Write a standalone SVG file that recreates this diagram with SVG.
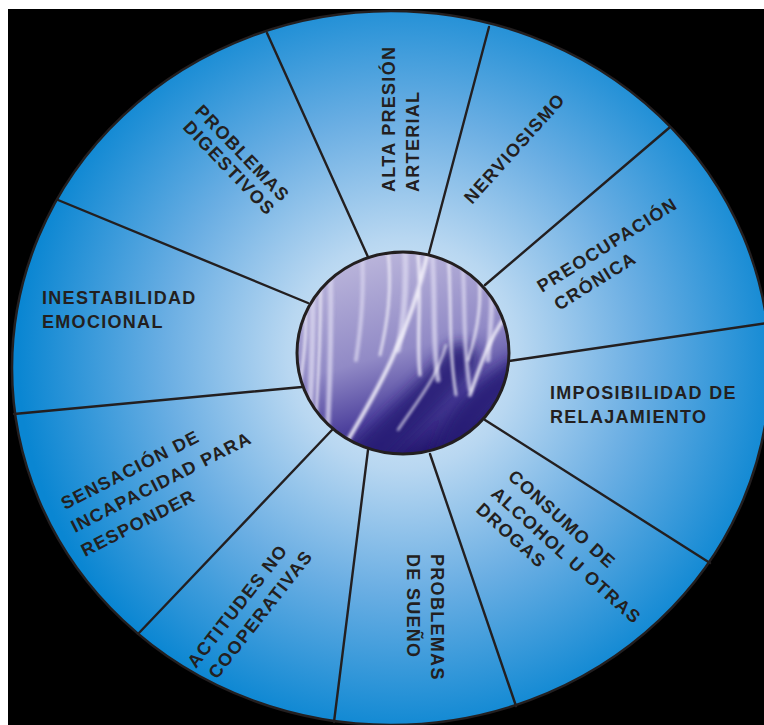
<svg xmlns="http://www.w3.org/2000/svg" width="764" height="725" viewBox="0 0 764 725">
<defs>
<radialGradient id="wheelFill" gradientUnits="userSpaceOnUse" cx="403" cy="354" r="385">
<stop offset="0" stop-color="#eaf4fc"/>
<stop offset="0.3" stop-color="#b8d7f1"/>
<stop offset="0.62" stop-color="#6aaee3"/>
<stop offset="1" stop-color="#0a86d2"/>
</radialGradient>
<linearGradient id="hubFill" x1="0.3" y1="0" x2="0.6" y2="1">
<stop offset="0" stop-color="#bcb7dc"/>
<stop offset="0.5" stop-color="#918ac6"/>
<stop offset="0.78" stop-color="#4f439e"/>
<stop offset="1" stop-color="#22156c"/>
</linearGradient>
<clipPath id="hubClip"><ellipse cx="403" cy="353" rx="106" ry="101"/></clipPath>
<filter id="soft" x="-20%" y="-20%" width="140%" height="140%"><feGaussianBlur stdDeviation="1.8"/></filter>
<filter id="soft2" x="-30%" y="-30%" width="160%" height="160%"><feGaussianBlur stdDeviation="7"/></filter>
</defs>
<style>
.divider{stroke:#231f20;stroke-width:2.4;fill:none;stroke-linecap:round}
.lbl{font-family:"Liberation Sans",Arial,sans-serif;font-size:18px;font-weight:bold;letter-spacing:1.3px;fill:#231f20}
.streak{fill:none;stroke:#f4f2fb;stroke-linecap:round}
.vstreak{fill:none;stroke:#d8d4ee;stroke-linecap:round}
.dstreak{fill:none;stroke:#271a74;stroke-linecap:round}
</style>
<rect x="0" y="0" width="764" height="725" fill="#ffffff"/>
<rect x="8" y="9" width="756" height="716" fill="#000000"/>
<g id="wheel">
<ellipse cx="391" cy="368" rx="379" ry="357" fill="url(#wheelFill)" stroke="#231f20" stroke-width="2.5"/>
</g>
<g id="connectors">
<line class="divider" x1="267" y1="33" x2="368" y2="257"/>
<line class="divider" x1="489" y1="27" x2="429" y2="253"/>
<line class="divider" x1="669" y1="128" x2="485" y2="285"/>
<line class="divider" x1="768" y1="323" x2="509" y2="361"/>
<line class="divider" x1="710" y1="563" x2="485" y2="420"/>
<line class="divider" x1="516" y1="706" x2="430" y2="454"/>
<line class="divider" x1="334" y1="722" x2="368" y2="450"/>
<line class="divider" x1="138" y1="634" x2="332" y2="430"/>
<line class="divider" x1="14" y1="414" x2="302" y2="387"/>
<line class="divider" x1="58" y1="200" x2="308" y2="303"/>
</g>
<g id="hub">
<ellipse cx="403" cy="353" rx="106" ry="101" fill="url(#hubFill)"/>
<g clip-path="url(#hubClip)">
<g filter="url(#soft2)" opacity="0.85">
<path class="dstreak" stroke-width="34" d="M350 480 C 385 430, 420 410, 460 360"/>
<path class="dstreak" stroke-width="30" d="M440 480 C 455 430, 470 400, 525 370"/>
</g>
<g filter="url(#soft)" opacity="0.8">
<path class="vstreak" stroke-width="6" d="M312 260 C 314 320, 312 380, 308 450"/>
<path class="vstreak" stroke-width="5" d="M330 250 C 332 320, 330 390, 326 460"/>
<path class="vstreak" stroke-width="4" d="M362 250 C 364 290, 362 320, 356 360"/>
<path class="vstreak" stroke-width="6" d="M405 250 C 407 290, 404 320, 398 350"/>
<path class="vstreak" stroke-width="5" d="M432 250 C 436 300, 432 340, 438 380"/>
<path class="vstreak" stroke-width="4" d="M462 255 C 466 300, 462 340, 470 390"/>
<path class="vstreak" stroke-width="5" d="M490 270 C 494 300, 490 330, 488 360"/>
</g>
<g filter="url(#soft)" opacity="0.9">
<path class="streak" stroke-width="2.5" d="M320 255 C 322 320, 318 380, 314 455"/>
<path class="streak" stroke-width="4" d="M345 445 C 375 395, 410 335, 428 252"/>
<path class="streak" stroke-width="2.5" d="M388 250 C 392 290, 388 320, 380 355"/>
<path class="streak" stroke-width="3" d="M418 255 C 422 300, 416 340, 420 375"/>
<path class="streak" stroke-width="2.5" d="M448 252 C 452 300, 448 345, 456 395"/>
<path class="streak" stroke-width="3.5" d="M470 395 C 482 360, 492 330, 515 305"/>
<path class="streak" stroke-width="2.5" d="M478 268 C 483 300, 478 330, 468 360"/>
<path class="streak" stroke-width="2.5" d="M300 385 C 305 350, 308 320, 304 290"/>
<path class="streak" stroke-width="2" d="M398 430 C 418 400, 436 380, 446 345"/>
</g>
</g>
<ellipse cx="403" cy="353" rx="106" ry="101" fill="none" stroke="#231f20" stroke-width="3"/>
</g>
<g id="label-problemas-digestivos">
<text class="lbl" transform="translate(194,112) rotate(46)">PROBLEMAS</text>
<text class="lbl" transform="translate(182,128) rotate(46)">DIGESTIVOS</text>
</g>
<g id="label-alta-presion">
<text class="lbl" transform="translate(395,192) rotate(-90)">ALTA PRESIÓN</text>
<text class="lbl" transform="translate(419,192) rotate(-90)">ARTERIAL</text>
</g>
<g id="label-nerviosismo">
<text class="lbl" transform="translate(472,205) rotate(-48)">NERVIOSISMO</text>
</g>
<g id="label-preocupacion">
<text class="lbl" transform="translate(542,293) rotate(-32)">PREOCUPACIÓN</text>
<text class="lbl" transform="translate(559,311) rotate(-32)">CRÓNICA</text>
</g>
<g id="label-imposibilidad">
<text class="lbl" x="550" y="399">IMPOSIBILIDAD DE</text>
<text class="lbl" x="550" y="423">RELAJAMIENTO</text>
</g>
<g id="label-consumo">
<text class="lbl" transform="translate(507,478) rotate(42)">CONSUMO DE</text>
<text class="lbl" transform="translate(490,495) rotate(42)">ALCOHOL U OTRAS</text>
<text class="lbl" transform="translate(475,511) rotate(42)">DROGAS</text>
</g>
<g id="label-problemas-sueno">
<text class="lbl" transform="translate(431,554) rotate(90)">PROBLEMAS</text>
<text class="lbl" transform="translate(407,554) rotate(90)">DE SUEÑO</text>
</g>
<g id="label-actitudes">
<text class="lbl" transform="translate(196,669) rotate(-52)">ACTITUDES NO</text>
<text class="lbl" transform="translate(217,680) rotate(-52)">COOPERATIVAS</text>
</g>
<g id="label-sensacion">
<text class="lbl" transform="translate(65,510) rotate(-27)">SENSACIÓN DE</text>
<text class="lbl" transform="translate(75,533) rotate(-27)">INCAPACIDAD PARA</text>
<text class="lbl" transform="translate(85,557) rotate(-27)">RESPONDER</text>
</g>
<g id="label-inestabilidad">
<text class="lbl" x="42" y="304">INESTABILIDAD</text>
<text class="lbl" x="42" y="328">EMOCIONAL</text>
</g>
</svg>
